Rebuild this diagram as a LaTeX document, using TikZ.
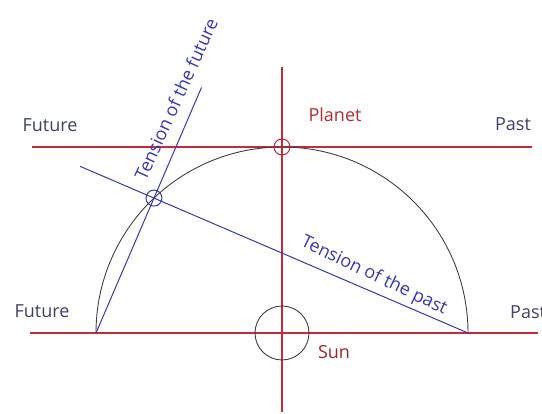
\documentclass[tikz,border=0pt]{standalone}
\usepackage{fontspec}
\setmainfont{Open Sans}
\usetikzlibrary{calc}

\definecolor{axisred}{RGB}{200,40,60}
\definecolor{tensionblue}{RGB}{55,55,175}
\definecolor{sidegray}{RGB}{62,64,100}
\definecolor{planetred}{RGB}{178,45,50}

\begin{document}
\begin{tikzpicture}[x=1pt, y=1pt, every node/.style={font=\fontsize{18}{21}\selectfont, inner sep=0pt},
	redline/.style={draw=axisred, line width=1.1pt},
	blueline/.style={draw=tensionblue, line width=1pt},
	sidelabel/.style={text=sidegray},
	tensionlabel/.style={text=tensionblue}]
	\clip (0,0) rectangle (542,414);
	\coordinate (sun) at (282,81);
	\coordinate (lfoot) at (96,81);
	\coordinate (rfoot) at (468,81);
	\coordinate (planet) at ($(sun)+(0,186)$);
	\coordinate (meet) at ($(sun)+(133.5:186)$);
	% time axes and the vertical
	\coordinate (topl) at (32,267);
	\coordinate (topr) at (532,267);
	\coordinate (botl) at (30,81);
	\coordinate (botr) at (538,81);
	\coordinate (vtop) at (282,347);
	\coordinate (vbot) at (282,2);
	\draw[redline] (topl) -- (topr);
	\draw[redline] (botl) -- (botr);
	\draw[redline] (vtop) -- (vbot);
	% orbit
	\draw[black!75, line width=0.9pt] (rfoot) arc[start angle=0, end angle=180, radius=186];
	\draw[black!75, line width=0.9pt] (sun) circle (27);
	\draw[axisred, line width=1pt] (planet) circle (8);
	% tensions
	\coordinate (futend) at ($(lfoot)!1.82!(meet)$);
	\coordinate (pastend) at ($(rfoot)!1.235!(meet)$);
	\draw[blueline] (lfoot) -- (futend);
	\draw[blueline] (rfoot) -- (pastend);
	\draw[blueline] (meet) circle (8);
	% labels
	\node[sidelabel] (futtop) at (50,289) {Future};
	\node[sidelabel] (pasttop) at (513,290) {Past};
	\node[sidelabel] (futbot) at (42,103) {Future};
	\node[sidelabel, anchor=west] (pastbot) at (510,102) {Past};
	\node[text=planetred] (planetlbl) at (335,299) {Planet};
	\node[text=planetred!85!black] (sunlbl) at (334,62) {Sun};
	\node[tensionlabel, rotate=65.5] (futlbl) at (176,315) {Tension of the future};
	\node[tensionlabel, rotate=-25.5] (pastlbl) at (374,138) {Tension of the past};
\end{tikzpicture}
\end{document}
